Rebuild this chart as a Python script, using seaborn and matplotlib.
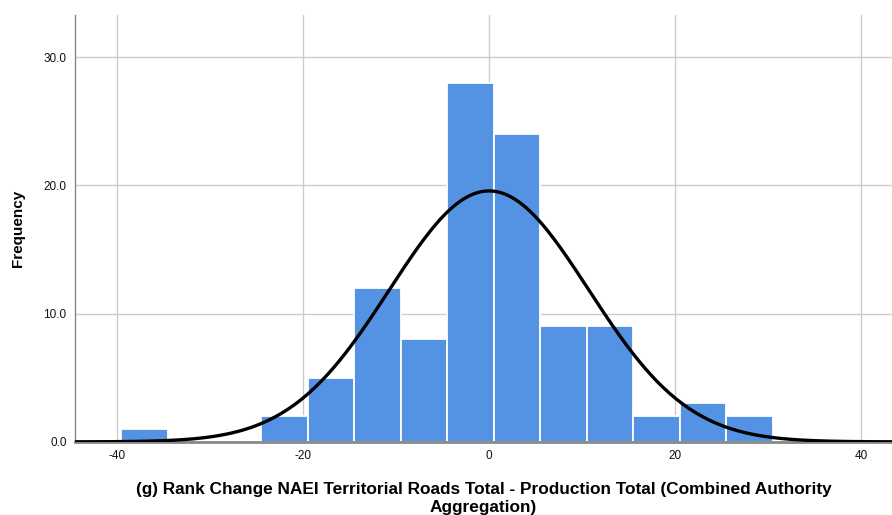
import matplotlib
matplotlib.use('Agg')
import matplotlib.pyplot as plt
import seaborn as sns
import numpy as np

# Histogram bins (14 bins of ~5 units)
bin_edges = [-39.5, -34.5, -29.5, -24.5, -19.5, -14.5, -9.5, -4.5,
             0.5, 5.5, 10.5, 15.5, 20.5, 25.5, 30.5]
bin_counts = [1, 0, 0, 2, 5, 12, 8, 28, 24, 9, 9, 2, 3, 2]

# Normal curve parameters
curve_mean = 0.0
curve_sd = 10.7

x_ticks = [-40, -20, 0, 20, 40]
y_ticks = [0, 10, 20, 30]

sns.set_theme(style='white')
plt.rcParams['font.family'] = ['Liberation Sans', 'DejaVu Sans']
plt.rcParams['axes.unicode_minus'] = False

fig = plt.figure(figsize=(8.92, 5.15), dpi=100)
ax = fig.add_axes([0.084, 0.142, 0.916, 0.829])

edges = np.array(bin_edges)
centers = (edges[:-1] + edges[1:]) / 2
sns.histplot(x=centers, weights=bin_counts, bins=bin_edges, ax=ax,
             color='#5493e3', alpha=1, edgecolor='white', linewidth=1.3,
             zorder=2)

# normal curve scaled to counts
n_total = sum(bin_counts)
bw = edges[1] - edges[0]
xs = np.linspace(-45, 44, 400)
ys = n_total * bw / (curve_sd * np.sqrt(2 * np.pi)) * np.exp(-0.5 * ((xs - curve_mean) / curve_sd) ** 2)
sns.lineplot(x=xs, y=ys, ax=ax, color='black', linewidth=2.4, zorder=3)

ax.set_xlim(-44.5, 43.3)
ax.set_ylim(0, 33.3)
ax.set_xticks(x_ticks)
ax.set_yticks(y_ticks)
ax.set_yticklabels([f'{v:.1f}' for v in y_ticks])
ax.tick_params(axis='both', length=0, labelsize=8.5, colors='#111111', pad=6)

ax.grid(True, color='#cccccc', linewidth=1)
ax.set_axisbelow(True)
for s in ['top', 'right']:
    ax.spines[s].set_visible(False)
ax.spines['left'].set_color('#888888')
ax.spines['left'].set_linewidth(1)
ax.spines['bottom'].set_color('#888888')
ax.spines['bottom'].set_linewidth(2)

ax.set_xlabel('(g) Rank Change NAEI Territorial Roads Total - Production Total (Combined Authority\nAggregation)',
              fontsize=12.4, fontweight='bold', labelpad=14, linespacing=1.25, color='black')
ax.set_ylabel('Frequency', fontsize=11, fontweight='bold', labelpad=13, color='black')

fig.savefig('out.png', dpi=100)
